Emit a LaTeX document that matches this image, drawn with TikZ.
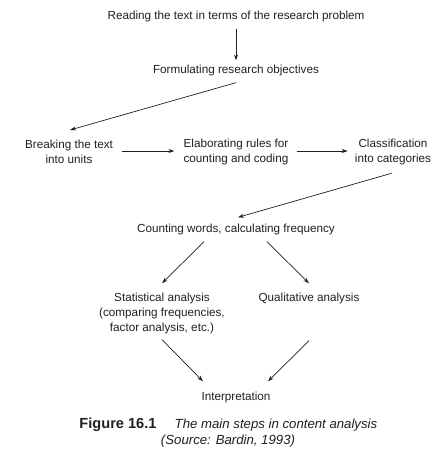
\documentclass[tikz,border=0pt]{standalone}
\usepackage{fontspec}
\setmainfont{Liberation Sans}
\usetikzlibrary{arrows.meta}
\definecolor{ink}{RGB}{35,31,32}
\begin{document}
\begin{tikzpicture}[x=1pt,y=-1pt,
  lbl/.style={inner sep=0pt,align=center,text=ink,font=\fontsize{11.7pt}{15pt}\selectfont},
  conn/.style={draw=ink,line width=0.7pt,-{Stealth[length=6pt,width=4pt]}}]
\useasboundingbox[fill=white] (0,0) rectangle (443,459);
\node[lbl] (read) at (236,16) {Reading the text in terms of the research problem};
\node[lbl] (form) at (236,70) {Formulating research objectives};
\node[lbl] (brk) at (69,152) {Breaking the text\\into units};
\node[lbl] (elab) at (236,152) {Elaborating rules for\\counting and coding};
\node[lbl] (cls) at (393,152) {Classification\\into categories};
\node[lbl] (cnt) at (236,229) {Counting words, calculating frequency};
\node[lbl] (stat) at (162,313) {Statistical analysis\\(comparing frequencies,\\factor analysis, etc.)};
\node[lbl] (qual) at (309,298) {Qualitative analysis};
\node[lbl] (interp) at (236,397) {Interpretation};
\node[inner sep=0pt,text=ink,font=\fontsize{14.6pt}{15pt}\selectfont\bfseries] (fig) at (118,425) {Figure 16.1};
\node[inner sep=0pt,text=ink,font=\fontsize{13.2pt}{15pt}\selectfont\itshape] (cap) at (276,425) {The main steps in content analysis};
\node[inner sep=0pt,text=ink,font=\fontsize{13.2pt}{15pt}\selectfont\itshape] (src) at (228,441) {(Source: Bardin, 1993)};

\draw[conn] ([yshift=-7pt]read.south) -- ([yshift=4pt]form.north);
\draw[conn] ([yshift=-7pt]form.south) -- ([xshift=1pt,yshift=10pt]brk.north);
\draw[conn] ([xshift=9pt,yshift=1pt]brk.east) -- ([xshift=-9pt,yshift=1pt]elab.west);
\draw[conn] ([xshift=8pt,yshift=1pt]elab.east) -- ([xshift=-7pt,yshift=1pt]cls.west);
\draw[conn] ([xshift=-1pt,yshift=-8pt]cls.south) -- ([xshift=2pt,yshift=6pt]cnt.north);
\draw[conn] ([xshift=-32pt,yshift=-7pt]cnt.south) -- ([yshift=9pt]stat.north);
\draw[conn] ([xshift=31pt,yshift=-7pt]cnt.south) -- ([yshift=9pt]qual.north);
\draw[conn] ([yshift=-6pt]stat.south) -- ([xshift=-33pt,yshift=10pt]interp.north);
\draw[conn] ([yshift=-37pt]qual.south) -- ([xshift=32pt,yshift=10pt]interp.north);
\end{tikzpicture}
\end{document}
